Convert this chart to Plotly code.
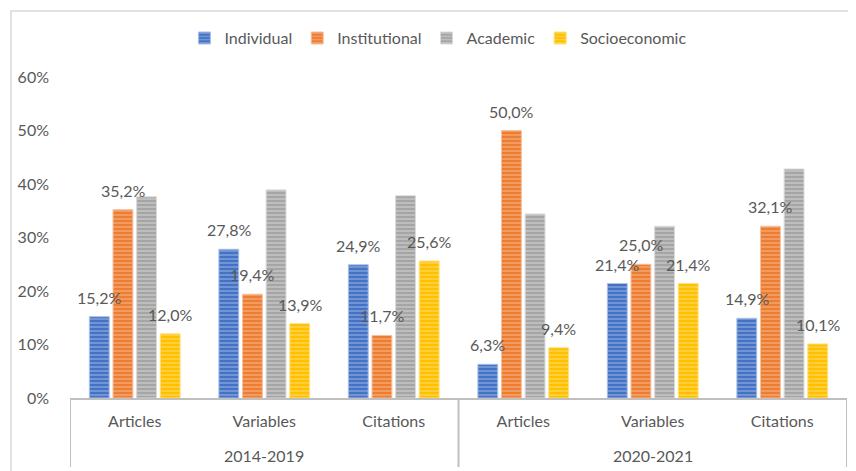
import plotly.graph_objects as go

periods = ["2014-2019", "2020-2021"]
measures = ["Articles", "Variables", "Citations", "Articles", "Variables", "Citations"]

individual = [15.2, 27.8, 24.9, 6.3, 21.4, 14.9]
institutional = [35.2, 19.4, 11.7, 50.0, 25.0, 32.1]
academic = [37.6, 38.9, 37.8, 34.4, 32.1, 42.8]
socioeconomic = [12.0, 13.9, 25.6, 9.4, 21.4, 10.1]

y_ticks = [0, 10, 20, 30, 40, 50, 60]

series = [
    ("Individual", individual, "#4472C4", "#a9c0e8", True),
    ("Institutional", institutional, "#ED7D31", "#f8bf9c", True),
    ("Academic", academic, "#A5A5A5", "#dadada", False),
    ("Socioeconomic", socioeconomic, "#FFC000", "#ffe07f", True),
]

FONT = "Lato"
GREY = "#595959"
AXC = "#BFBFBF"
FS = 16
BARGAP = 0.27
BARGROUPGAP = 0.16

xpos = list(range(len(measures)))

fig = go.Figure()
n_series = len(series)
slot = (1 - BARGAP) / n_series
for si, (name, vals, col, light, show) in enumerate(series):
    fig.add_trace(go.Bar(
        name=name,
        x=xpos,
        y=vals,
        marker=dict(
            color=col,
            line=dict(width=1, color=light),
            pattern=dict(shape="-", fgcolor=light, bgcolor=col, size=4, solidity=0.45, fillmode="overlay"),
        ),
        hoverinfo="skip",
    ))
    if show:
        off = (si - (n_series - 1) / 2) * slot
        for xi, v in zip(xpos, vals):
            fig.add_annotation(
                x=xi + off, y=v, xref="x", yref="y",
                text=f"{v:.1f}%".replace(".", ","),
                showarrow=False, yanchor="bottom", xanchor="center", yshift=8,
                font=dict(family=FONT, size=FS, color=GREY),
            )

fig.update_layout(
    width=848, height=463,
    margin=dict(l=62, r=9, t=69, b=73, autoexpand=False),
    paper_bgcolor="white", plot_bgcolor="white",
    barmode="group", bargap=BARGAP, bargroupgap=BARGROUPGAP,
    font=dict(family=FONT, size=FS, color=GREY),
    showlegend=True,
    legend=dict(
        orientation="h", xref="container", yref="container",
        x=0.507, xanchor="center", y=0.935, yanchor="middle",
        font=dict(family=FONT, size=FS, color=GREY),
        itemwidth=30, tracegroupgap=0, bgcolor="rgba(0,0,0,0)",
    ),
)

fig.update_yaxes(
    range=[0, 60], tickvals=y_ticks,
    ticktext=[f"{t}%" for t in y_ticks],
    showgrid=False, zeroline=False, showline=False, ticks="",
    ticklabelstandoff=20, automargin=False,
    tickfont=dict(family=FONT, size=FS, color=GREY),
)
fig.update_xaxes(
    range=[-0.5, len(measures) - 0.5],
    tickvals=xpos, ticktext=measures,
    showline=True, linecolor=AXC, linewidth=2,
    ticks="", showgrid=False, zeroline=False,
    ticklabelstandoff=8, automargin=False,
    tickfont=dict(family=FONT, size=FS, color=GREY),
)

# group labels and dividers
n_per = len(measures) // len(periods)
for i, p in enumerate(periods):
    fig.add_annotation(x=i * n_per + (n_per - 1) / 2, y=-0.18, xref="x", yref="paper",
                       text=p, showarrow=False, yanchor="middle",
                       font=dict(family=FONT, size=FS, color=GREY))
for i in range(len(periods) + 1):
    xv = i * n_per - 0.5
    fig.add_shape(type="line", xref="x", yref="paper", x0=xv, x1=xv, y0=0, y1=-0.215,
                  line=dict(color=AXC, width=2))

# chart border
fig.add_shape(type="rect", xref="paper", yref="paper",
              x0=-0.0759, x1=1.2, y0=-0.5, y1=1.2056,
              line=dict(color="#D9D9D9", width=1.5), layer="above")

fig.write_html("out.html")
